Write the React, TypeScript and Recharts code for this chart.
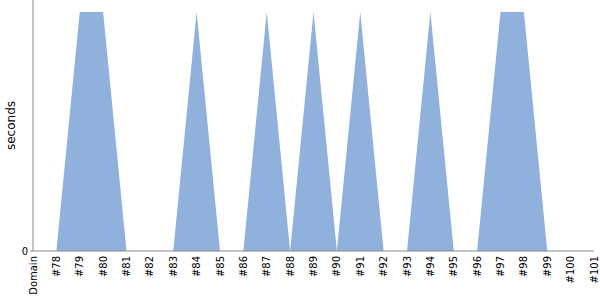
import { FC } from 'react';
import { AreaChart, Area, XAxis, YAxis } from 'recharts';

const builds = ['Domain', '#78', '#79', '#80', '#81', '#82', '#83', '#84', '#85', '#86', '#87', '#88', '#89',
  '#90', '#91', '#92', '#93', '#94', '#95', '#96', '#97', '#98', '#99', '#100', '#101'];
const seconds = [0, 0, 1, 1, 0, 0, 0, 1, 0, 0, 1, 0, 1, 0, 1, 0, 0, 1, 0, 0, 1, 1, 0, 0, 0];
const yTicks = [0];

const data = builds.map((b, i) => ({ build: b, seconds: seconds[i] }));

const font = 'DejaVu Sans, sans-serif';

const BuildTick: FC<any> = ({ x, y, payload }) => (
  <text x={x} y={y} transform={`rotate(-90, ${x}, ${y})`} textAnchor="end" dy="0.35em"
    fontSize={10} fontFamily={font} fill="#000">
    {payload.value}
  </text>
);

const App: FC = () => {
  return (
    <div style={{ position: 'absolute', left: 0, top: 0 }}>
      <AreaChart width={600} height={300} data={data} margin={{ top: 0, right: 6, bottom: 0, left: 0 }}>
        <XAxis dataKey="build" interval={0} tick={<BuildTick />} tickLine={false} tickSize={3} tickMargin={2}
          height={49} stroke="#888" />
        <YAxis width={33} domain={[0, 1.05]} ticks={yTicks} tickSize={3} tickMargin={2} stroke="#888"
          tick={{ fontSize: 10, fontFamily: font, fill: '#000' }}
          label={{ value: 'seconds', angle: -90, position: 'center', dx: -6, fontSize: 12, fontFamily: font, fill: '#000' }} />
        <Area type="linear" dataKey="seconds" fill="#8fb1dc" fillOpacity={1} stroke="none" isAnimationActive={false} />
      </AreaChart>
    </div>
  );
}

export default App;
